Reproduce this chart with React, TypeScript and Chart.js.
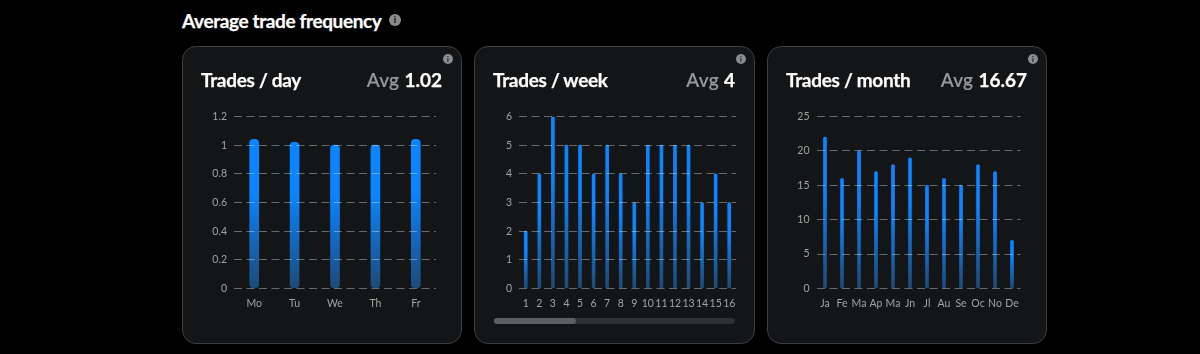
import React, { useEffect, useRef } from "react";
import { Chart, registerables } from "chart.js";

Chart.register(...registerables);

const dayLabels = ["Mo", "Tu", "We", "Th", "Fr"];
const dayValues = [1.04, 1.02, 1, 1, 1.04];
const dayTicks = { max: 1.2, step: 0.2 };

const weekLabels = ["1", "2", "3", "4", "5", "6", "7", "8", "9", "10", "11", "12", "13", "14", "15", "16"];
const weekValues = [2, 4, 6, 5, 5, 4, 5, 4, 3, 5, 5, 5, 5, 3, 4, 3];
const weekTicks = { max: 6, step: 1 };

const monthLabels = ["Ja", "Fe", "Ma", "Ap", "Ma", "Jn", "Jl", "Au", "Se", "Oc", "No", "De"];
const monthValues = [22, 16, 20, 17, 18, 19, 15, 16, 15, 18, 17, 7];
const monthTicks = { max: 25, step: 5 };

const FONT = "Lato, 'Open Sans', sans-serif";
const TOP_COLOR = "#0a84ff";
const BOTTOM_COLOR = "#1d4a78";

type CardProps = {
  left: number;
  width: number;
  title: string;
  avg: string;
  labels: string[];
  values: number[];
  ticks: { max: number; step: number };
  plotLeft: number;
  plotRight: number;
  barWidth: number;
  radius: number;
  scrollbar?: boolean;
};

function InfoIcon({ x, y, size }: { x: number; y: number; size: number }) {
  return (
    <div
      style={{
        position: "absolute",
        left: x - size / 2,
        top: y - size / 2,
        width: size,
        height: size,
        borderRadius: "50%",
        background: "#8b8c8e",
        color: "#1a1a1a",
        fontFamily: FONT,
        fontWeight: 900,
        fontSize: size - 3,
        lineHeight: `${size}px`,
        textAlign: "center",
      }}
    >
      i
    </div>
  );
}

function Card(p: CardProps) {
  const ref = useRef<HTMLCanvasElement>(null);
  const PLOT_TOP = 116.5;
  const PLOT_BOTTOM = 288.5;
  const CARD_TOP = 46;
  const CARD_H = 298;
  const AXIS_W = 30;
  const AXIS_H = 30;

  useEffect(() => {
    const chart = new Chart(ref.current!, {
      type: "bar",
      data: {
        labels: p.labels,
        datasets: [
          {
            data: p.values,
            barThickness: p.barWidth,
            borderRadius: { topLeft: p.radius, topRight: p.radius, bottomLeft: p.radius, bottomRight: p.radius },
            borderSkipped: false,
            backgroundColor: (ctx: any) => {
              const c = ctx.chart;
              const y = c.scales?.y;
              const v = ctx.parsed?.y;
              if (!y || v == null) return TOP_COLOR;
              const y0 = y.getPixelForValue(v);
              const y1 = y.getPixelForValue(0);
              if (!Number.isFinite(y0) || !Number.isFinite(y1)) return TOP_COLOR;
              const g = c.ctx.createLinearGradient(0, y0, 0, y1);
              g.addColorStop(0, TOP_COLOR);
              g.addColorStop(0.35, TOP_COLOR);
              g.addColorStop(1, BOTTOM_COLOR);
              return g;
            },
          },
        ],
      },
      options: {
        animation: false,
        responsive: false,
        maintainAspectRatio: false,
        layout: {
          padding: {
            left: p.plotLeft - p.left - AXIS_W,
            right: p.left + p.width - p.plotRight,
            top: PLOT_TOP - CARD_TOP,
            bottom: CARD_TOP + CARD_H - PLOT_BOTTOM - AXIS_H,
          },
        },
        plugins: { legend: { display: false }, tooltip: { enabled: false } },
        scales: {
          x: {
            afterFit: (s: any) => {
              s.height = AXIS_H;
            },
            border: { display: false },
            grid: { display: false, drawTicks: false },
            ticks: {
              color: "#a3a3a3",
              font: { family: FONT, size: 10.5 },
              padding: 9,
              maxRotation: 0,
              autoSkip: false,
            },
          },
          y: {
            min: 0,
            max: p.ticks.max,
            afterFit: (s: any) => {
              s.width = AXIS_W;
            },
            border: { display: false, dash: [8, 4.5] },
            grid: { color: "rgba(255,255,255,0.36)", drawTicks: false, z: 1, lineWidth: 1 },
            ticks: {
              stepSize: p.ticks.step,
              color: "#a3a3a3",
              font: { family: FONT, size: 10.5 },
              padding: 7,
              callback: (v: any) => String(Number(Number(v).toFixed(1))),
            },
          },
        },
      },
    } as any);
    return () => chart.destroy();
  }, []);

  return (
    <div
      style={{
        position: "absolute",
        left: p.left,
        top: CARD_TOP,
        width: p.width,
        height: CARD_H,
        boxSizing: "border-box",
        background: "#131517",
        border: "1px solid #3c3e41",
        borderRadius: 14,
      }}
    >
      <canvas
        ref={ref}
        width={p.width}
        height={CARD_H}
        style={{ position: "absolute", left: -1, top: -1, width: p.width, height: CARD_H }}
      />
      <div
        style={{
          position: "absolute",
          left: 18,
          top: 21,
          color: "#fff",
          fontFamily: FONT,
          fontWeight: 700,
          fontSize: 19,
          lineHeight: "24px",
          letterSpacing: -0.3,
          WebkitTextStroke: "0.25px #fff",
          whiteSpace: "nowrap",
        }}
      >
        {p.title}
      </div>
      <div
        style={{
          position: "absolute",
          right: 19,
          top: 21,
          color: "#fff",
          fontFamily: FONT,
          fontWeight: 700,
          fontSize: 19,
          lineHeight: "24px",
          whiteSpace: "nowrap",
        }}
      >
        <span style={{ color: "#9a9b9d", fontWeight: 500, letterSpacing: 0.3, WebkitTextStroke: "0.2px #9a9b9d" }}>Avg </span>
        <span style={{ WebkitTextStroke: "0.25px #fff" }}>{p.avg}</span>
      </div>
      <InfoIcon x={p.width - 15} y={12} size={10} />
      {p.scrollbar && (
        <div
          style={{
            position: "absolute",
            left: 19,
            top: 271,
            width: 241,
            height: 6,
            borderRadius: 3,
            background: "#2e3033",
          }}
        >
          <div style={{ width: 82, height: 6, borderRadius: 3, background: "#5e5f61" }} />
        </div>
      )}
    </div>
  );
}

export default function App() {
  return (
    <div style={{ position: "fixed", left: 0, top: 0, width: 1200, height: 354, background: "#000", overflow: "hidden" }}>
      <div
        style={{
          position: "absolute",
          left: 182,
          top: 9,
          color: "#fff",
          fontFamily: FONT,
          fontWeight: 700,
          fontSize: 19,
          lineHeight: "24px",
          letterSpacing: -0.37,
          WebkitTextStroke: "0.25px #fff",
          whiteSpace: "nowrap",
        }}
      >
        Average trade frequency
      </div>
      <InfoIcon x={395} y={20} size={12} />
      <Card left={182} width={280} title="Trades / day" avg="1.02" labels={dayLabels} values={dayValues} ticks={dayTicks} plotLeft={234} plotRight={436} barWidth={9} radius={4} />
      <Card left={474} width={281} title="Trades / week" avg="4" labels={weekLabels} values={weekValues} ticks={weekTicks} plotLeft={519} plotRight={736} barWidth={3} radius={1.5} scrollbar />
      <Card left={767} width={280} title="Trades / month" avg="16.67" labels={monthLabels} values={monthValues} ticks={monthTicks} plotLeft={816.5} plotRight={1020.5} barWidth={3} radius={1.5} />
    </div>
  );
}
